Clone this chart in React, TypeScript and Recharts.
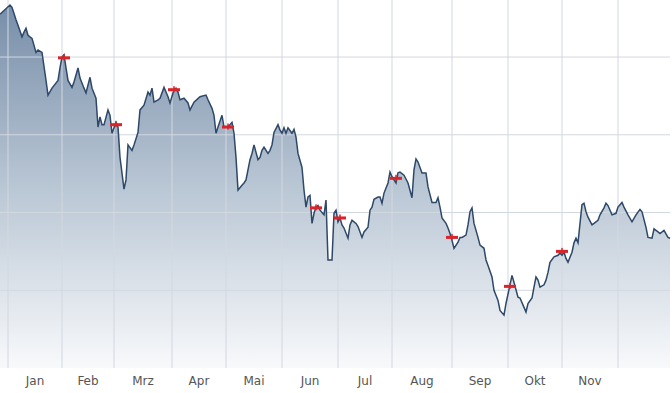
import { Area, ComposedChart, Line, ReferenceLine, Scatter, XAxis, YAxis } from 'recharts';

// trading-session index and closing value
const sessions = [
  0, 5, 6, 8, 9, 11, 12, 13, 14, 16, 18, 19, 21, 23, 24, 26, 29, 30, 31, 32, 33, 34, 36, 37, 39, 40, 42, 43, 45, 46,
  48, 49, 50, 51, 52, 54, 55, 56, 58, 59, 60, 62, 63, 64, 66, 67, 69, 70, 72, 74, 75, 76, 77, 79, 80, 82, 84, 85, 87,
  88, 89, 90, 92, 94, 95, 97, 100, 103, 104, 106, 107, 108, 109, 111, 112, 114, 116, 117, 118, 119, 121, 122, 123, 125,
  126, 127, 129, 130, 131, 132, 134, 135, 136, 137, 139, 140, 141, 142, 143, 144, 146, 147, 148, 149, 151, 152, 153,
  154, 155, 156, 157, 158, 159, 160, 162, 163, 164, 166, 167, 168, 169, 170, 171, 172, 174, 175, 176, 178, 179, 181,
  182, 184, 185, 186, 187, 189, 190, 191, 192, 194, 195, 196, 198, 199, 200, 202, 204, 206, 207, 208, 209, 211, 213,
  214, 216, 218, 219, 220, 221, 223, 224, 225, 226, 227, 229, 230, 231, 233, 234, 235, 236, 237, 239, 240, 242, 243,
  244, 246, 247, 249, 250, 252, 253, 255, 256, 257, 259, 260, 262, 263, 264, 266, 267, 268, 269, 270, 272, 273, 274,
  275, 277, 279, 280, 281, 282, 283, 284, 286, 287, 288, 289, 290, 291, 292, 293, 294, 296, 297, 299, 300, 302, 303,
  304, 306, 308, 309, 311, 312, 314, 316, 318, 320, 321, 323, 324, 326, 327, 329, 330, 332, 334, 335,
];

const closes = [
  85.5, 86.7, 86.4, 84.8, 84.1, 82.6, 83.2, 83.7, 82.8, 82.4, 80.6, 80.9, 80.6, 77.0, 75.1, 76.0, 77.0, 78.6, 80.0, 80.3,
  78.6, 77.0, 76.1, 76.8, 78.6, 77.3, 76.0, 75.4, 77.4, 76.0, 74.7, 71.0, 72.3, 71.3, 71.3, 73.2, 72.5, 70.2, 71.6, 71.0,
  67.1, 63.0, 64.2, 68.7, 68.0, 68.7, 70.3, 73.2, 73.8, 75.5, 75.1, 76.0, 74.2, 74.5, 74.7, 76.1, 74.9, 74.1, 75.8, 76.0,
  75.5, 74.5, 74.7, 74.1, 73.2, 74.2, 74.9, 75.1, 74.5, 73.4, 72.5, 70.2, 71.0, 72.5, 71.0, 71.0, 71.6, 70.2, 67.1, 62.9,
  63.5, 63.8, 64.2, 66.8, 67.6, 68.7, 66.8, 67.1, 68.0, 68.4, 67.6, 68.0, 68.7, 70.3, 71.3, 70.6, 70.2, 70.9, 70.2, 70.9,
  70.2, 70.7, 69.7, 67.6, 65.8, 62.9, 60.7, 62.0, 62.2, 58.6, 59.9, 60.7, 60.9, 60.3, 59.7, 61.6, 53.9, 53.9, 59.9, 60.3,
  58.8, 59.3, 58.4, 58.0, 56.7, 58.4, 59.0, 58.6, 58.2, 56.8, 57.5, 58.1, 60.3, 60.7, 61.7, 62.0, 62.0, 61.2, 62.5, 63.8,
  65.2, 64.6, 63.8, 65.1, 65.2, 64.8, 63.8, 61.9, 65.5, 66.9, 66.5, 65.1, 65.1, 63.3, 61.3, 61.3, 61.9, 60.7, 59.3, 58.6,
  58.0, 57.3, 56.4, 55.4, 56.2, 56.8, 56.8, 57.1, 58.4, 60.1, 60.6, 58.6, 56.8, 55.8, 55.4, 53.9, 53.2, 51.7, 50.0, 48.7,
  47.4, 46.8, 48.3, 50.7, 51.9, 51.0, 49.1, 49.0, 47.8, 47.2, 48.3, 49.0, 50.4, 51.7, 51.3, 50.4, 50.7, 51.3, 52.3, 53.6,
  54.3, 54.5, 54.8, 54.5, 54.9, 54.1, 53.6, 54.9, 56.1, 56.7, 56.1, 58.6, 61.0, 61.2, 60.1, 59.4, 58.4, 58.6, 59.0, 59.7,
  60.6, 61.2, 60.9, 59.7, 59.9, 60.7, 61.3, 60.7, 59.7, 58.8, 59.7, 60.4, 60.1, 58.1, 56.8, 56.7, 57.9, 57.5, 57.3, 57.7,
  56.8, 56.7,
];

// event markers (red dashes)
const markerSessions = [32, 58, 87, 114, 158, 170, 198, 226, 255, 281];
const markerValues = [79.9, 71.3, 75.8, 71.0, 60.6, 59.3, 64.4, 56.8, 50.5, 55.0];

// first session of each month (Jan .. Dec)
const monthStarts = [4, 31, 57, 86, 113, 141, 169, 196, 226, 254, 281, 309];
const monthLabels = ['Jan', 'Feb', 'Mrz', 'Apr', 'Mai', 'Jun', 'Jul', 'Aug', 'Sep', 'Okt', 'Nov'];

const levels = [50, 60, 70, 80];

const data = sessions.map((d, i) => ({ d, v: closes[i] }));
const markers = markerSessions.map((d, i) => ({ d, v: markerValues[i] }));
const tickPositions = monthLabels.map((_, i) => (monthStarts[i] + monthStarts[i + 1]) / 2);

const gridColor = '#d2d8df';

function Marker(props: any) {
  const { cx, cy } = props;
  if (cx == null || cy == null) return null;
  return (
    <g>
      <rect x={cx - 6} y={cy - 1.5} width={12} height={3} fill="#d8242a" />
      <rect x={cx - 0.75} y={cy - 3.5} width={1.5} height={6} fill="#d8242a" />
    </g>
  );
}

export default function App() {
  return (
    <div style={{ position: 'absolute', left: 0, top: 0, width: 672, height: 393, background: '#fff' }}>
      <ComposedChart width={672} height={393} data={data} margin={{ top: 0, right: 2, left: 0, bottom: 0 }}>
        <defs>
          <linearGradient id="fillGrad" x1="0" y1="0" x2="0" y2="1">
            <stop offset="0%" stopColor="#778ea9" />
            <stop offset="50%" stopColor="#b9c6d4" />
            <stop offset="100%" stopColor="#f8f9fb" />
          </linearGradient>
        </defs>
        <XAxis
          dataKey="d"
          type="number"
          domain={[0, 335]}
          ticks={tickPositions}
          interval={0}
          tickFormatter={(t) => monthLabels[tickPositions.indexOf(t)] ?? ''}
          axisLine={false}
          tickLine={false}
          height={25}
          tick={{ fill: '#555', fontSize: 12, fontFamily: 'DejaVu Sans' }}
        />
        <YAxis hide domain={[40, 87.34]} allowDataOverflow />
        <Area
          type="linear"
          dataKey="v"
          stroke="none"
          fill="url(#fillGrad)"
          fillOpacity={1}
          dot={false}
          activeDot={false}
          isAnimationActive={false}
        />
        {monthStarts.map((m) => (
          <ReferenceLine key={'m' + m} x={m} stroke={gridColor} strokeWidth={1} />
        ))}
        {levels.map((l) => (
          <ReferenceLine key={'l' + l} y={l} stroke={gridColor} strokeWidth={1} />
        ))}
        <Line
          type="linear"
          dataKey="v"
          stroke="#2d4868"
          strokeWidth={1.5}
          dot={false}
          activeDot={false}
          isAnimationActive={false}
        />
        <Scatter data={markers} dataKey="v" shape={<Marker />} isAnimationActive={false} />
      </ComposedChart>
    </div>
  );
}
